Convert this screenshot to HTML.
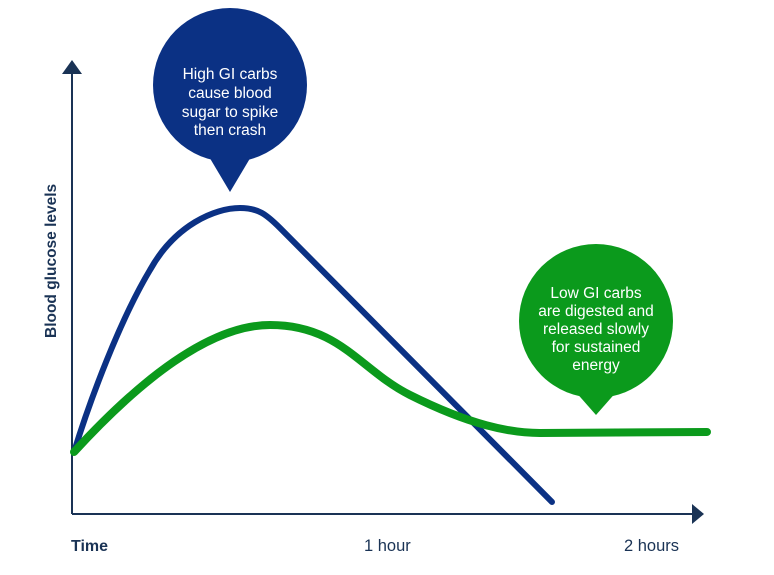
<!DOCTYPE html>
<html><head><meta charset="utf-8"><style>
body{margin:0;background:#fff;}
svg{display:block;font-family:"Liberation Sans",sans-serif;}
</style></head><body>
<svg width="774" height="575" viewBox="0 0 774 575">
<line x1="72" y1="514" x2="72" y2="72" stroke="#1a3355" stroke-width="2"/>
<polygon points="62,74 72,60 82,74" fill="#1a3355"/>
<line x1="72" y1="514" x2="694" y2="514" stroke="#1a3355" stroke-width="2"/>
<polygon points="692,504 704,514 692,524" fill="#1a3355"/>
<text x="71" y="551" font-size="16" font-weight="bold" fill="#1a3355">Time</text>
<text x="364" y="551" font-size="16.5" fill="#1a3355">1 hour</text>
<text x="624" y="551" font-size="16.5" fill="#1a3355">2 hours</text>
<text transform="translate(56,338) rotate(-90)" font-size="15.5" font-weight="bold" fill="#1a3355">Blood glucose levels</text>
<path d="M74,452 C90,400 120,320 150,270 C175,225 215,208 240,208 C258,208 266,214 280,228 L552,502" fill="none" stroke="#0b3184" stroke-width="6" stroke-linecap="round"/>
<path d="M74,452 C140,380 210,325 270,325 C340,325 360,370 410,395 C470,425 510,433 540,433 L707,432" fill="none" stroke="#0b9a1c" stroke-width="8" stroke-linecap="round"/>
<circle cx="230" cy="85" r="77" fill="#0b3184"/>
<polygon points="208,155 252,155 230,192" fill="#0b3184"/>
<g fill="#fff" font-size="15.5" text-anchor="middle">
<text x="230" y="79">High GI carbs</text>
<text x="230" y="98">cause blood</text>
<text x="230" y="117">sugar to spike</text>
<text x="230" y="135">then crash</text>
</g>
<circle cx="596" cy="321" r="77" fill="#0b9a1c"/>
<polygon points="574,390 618,390 596,415" fill="#0b9a1c"/>
<g fill="#fff" font-size="15.5" text-anchor="middle">
<text x="596" y="298">Low GI carbs</text>
<text x="596" y="316">are digested and</text>
<text x="596" y="334">released slowly</text>
<text x="596" y="352">for sustained</text>
<text x="596" y="370">energy</text>
</g>
</svg>
</body></html>
